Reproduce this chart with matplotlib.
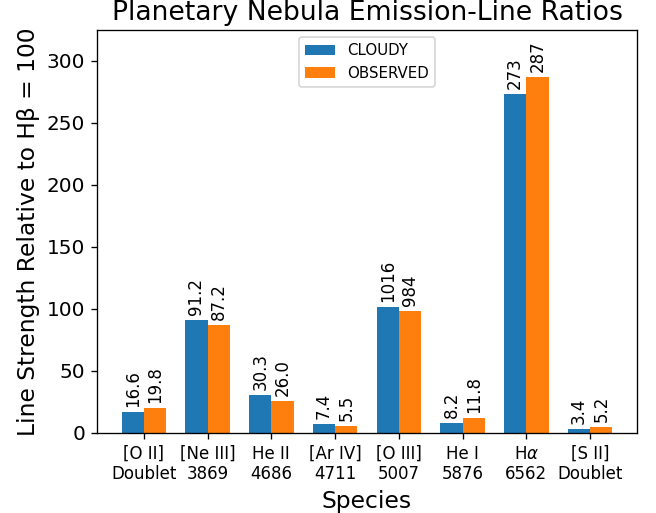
import matplotlib
matplotlib.use("Agg")
import matplotlib.pyplot as plt
import numpy as np

species = ["[O II]\nDoublet", "[Ne III]\n3869", "He II\n4686", "[Ar IV]\n4711",
           "[O III]\n5007", "He I\n5876", "H$\\alpha$\n6562", "[S II]\nDoublet"]
cloudy = [16.6, 91.2, 30.3, 7.4, 1016, 8.2, 273, 3.4]
observed = [19.8, 87.2, 26.0, 5.5, 984, 11.8, 287, 5.2]
# [O III] 5007 is plotted at one tenth of its strength to keep the axis readable
display_scale = [1, 1, 1, 1, 0.1, 1, 1, 1]


def fmt(v):
    return f"{v:.0f}" if v >= 100 else f"{v:.1f}"


W, H, DPI = 656, 513, 120
fig = plt.figure(figsize=(W / DPI, H / DPI), dpi=DPI)
ax = fig.add_axes([97 / W, 1 - 433 / H, (637 - 97) / W, (433 - 29.5) / H])

x = np.arange(len(species))
w = 0.35
c_h = np.array(cloudy) * np.array(display_scale)
o_h = np.array(observed) * np.array(display_scale)
b1 = ax.bar(x - w / 2, c_h, w, label="CLOUDY", color="tab:blue")
b2 = ax.bar(x + w / 2, o_h, w, label="OBSERVED", color="tab:orange")
ax.bar_label(b1, labels=[fmt(v) for v in cloudy], rotation=90, padding=3, fontsize=10)
ax.bar_label(b2, labels=[fmt(v) for v in observed], rotation=90, padding=3, fontsize=10)

ax.set_ylim(0, 325)
ax.set_xticks(x)
ax.set_xticklabels(species, fontsize=10)
ax.tick_params(axis="y", labelsize=12)
ax.set_xlabel("Species", fontsize=14)
ax.set_ylabel("Line Strength Relative to Hβ = 100", fontsize=14)
ax.set_title("Planetary Nebula Emission-Line Ratios", fontsize=16)
ax.legend(loc="upper center", fontsize=9)

fig.savefig("out.png", dpi=DPI)
